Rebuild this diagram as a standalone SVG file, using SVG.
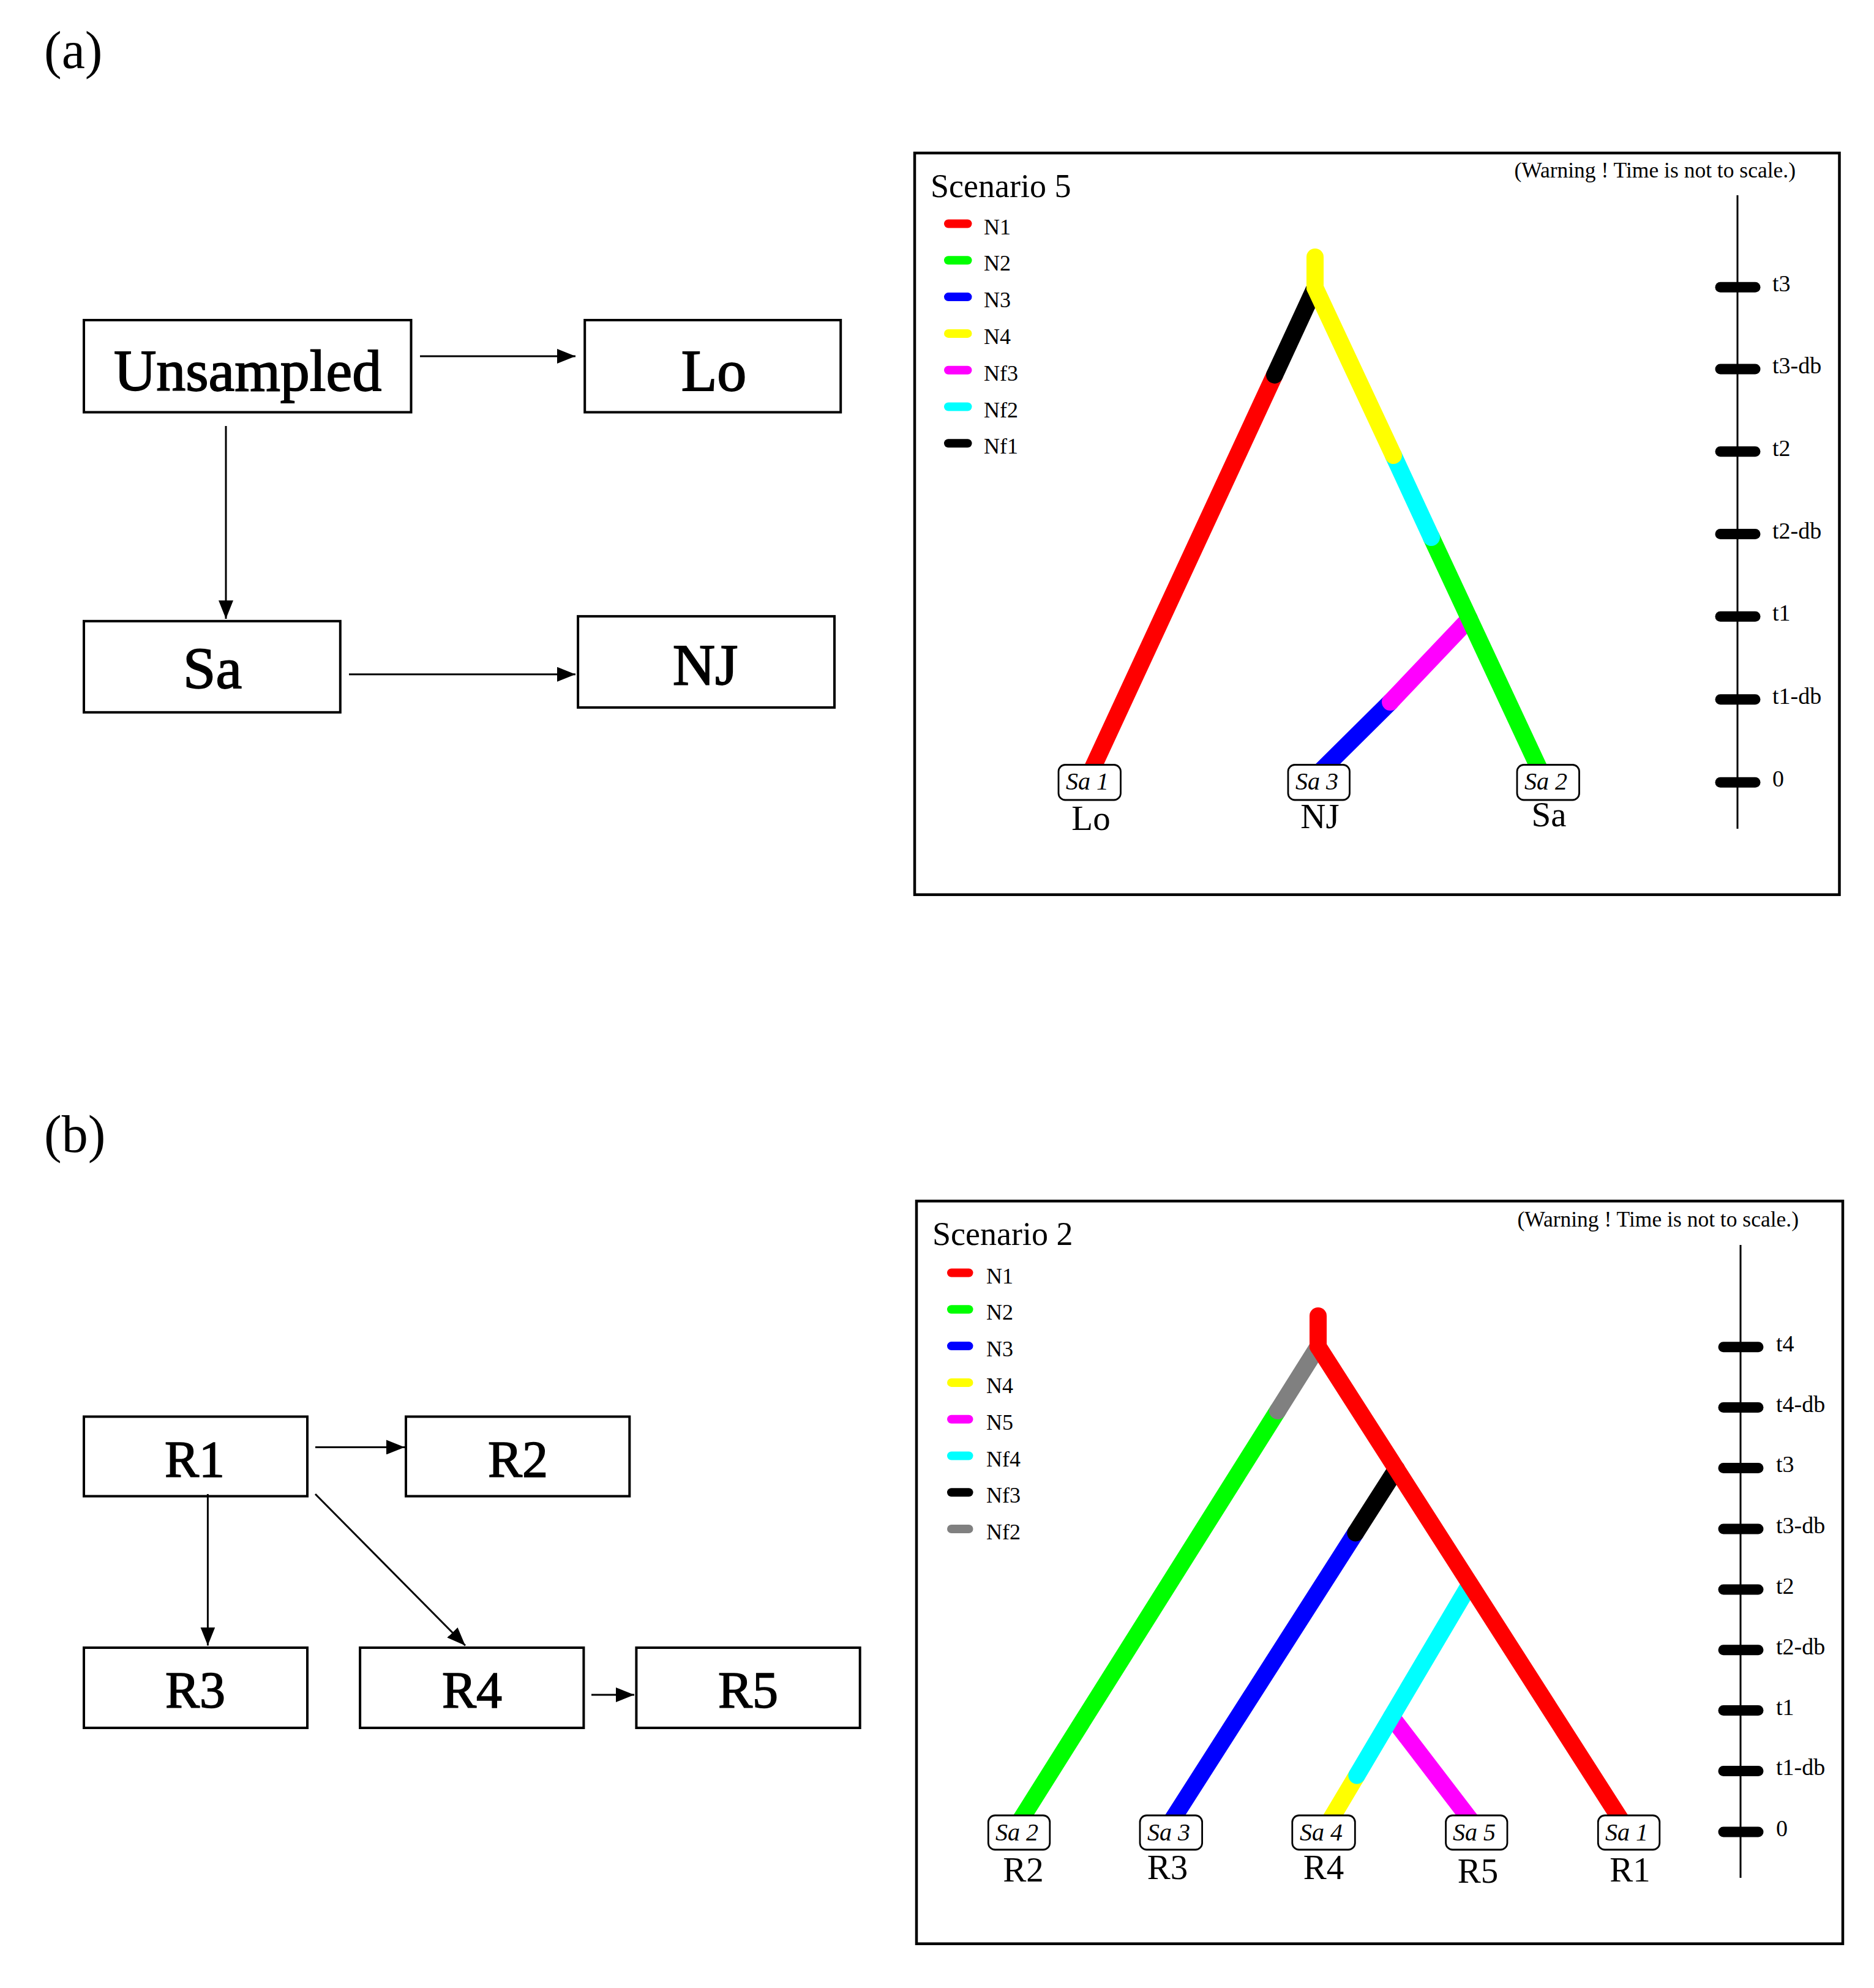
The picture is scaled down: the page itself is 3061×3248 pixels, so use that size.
<svg xmlns="http://www.w3.org/2000/svg" width="3061" height="3248" viewBox="0 0 3061 3248">
<defs>
<marker id="ah" viewBox="0 0 10 8" refX="10" refY="4" markerWidth="10" markerHeight="8" orient="auto" markerUnits="strokeWidth">
<path d="M0,0 L10,4 L0,8 z" fill="#000"/>
</marker>
<style>
text{font-family:"Liberation Serif","Times New Roman",serif;fill:#000}
.box{fill:#fff;stroke:#000;stroke-width:4}
.big{font-size:96px;text-anchor:middle;stroke:#000;stroke-width:1.8}
.mid{font-size:84px;text-anchor:middle;stroke:#000;stroke-width:1.6}
.panel{font-size:86px}
.conn{stroke:#000;stroke-width:3;fill:none;marker-end:url(#ah)}
.frame{fill:#fff;stroke:#000;stroke-width:4.5}
.title{font-size:54px}
.warn{font-size:35.5px;text-anchor:end}
.leg{font-size:36px}
.sw{stroke-width:14;stroke-linecap:round}
.br{stroke-width:28;stroke-linecap:round;fill:none}
.samp{fill:#fff;stroke:#000;stroke-width:2.8}
.st{font-size:40px;font-style:italic;text-anchor:middle}
.pop{font-size:57px;text-anchor:middle}
.axis{stroke:#000;stroke-width:3}
.tick{stroke:#000;stroke-width:17;stroke-linecap:round}
.tl{font-size:38px}
</style>
</defs>
<rect width="3061" height="3248" fill="#fff"/>

<!-- Panel (a) -->
<text class="panel" x="72" y="111">(a)</text>
<g id="node-unsampled"><rect class="box" x="137" y="523" width="534.5" height="150.5"/><text class="big" x="404.5" y="638">Unsampled</text></g>
<g id="node-lo"><rect class="box" x="955.2" y="523" width="418" height="150.5"/><text class="big" x="1166" y="638">Lo</text></g>
<g id="node-sa"><rect class="box" x="137" y="1014.8" width="418.8" height="149"/><text class="big" x="347" y="1124">Sa</text></g>
<g id="node-nj"><rect class="box" x="944.1" y="1006.9" width="418.9" height="149"/><text class="big" x="1152" y="1118.5">NJ</text></g>
<g id="connectors-a">
<line class="conn" x1="686" y1="582" x2="940" y2="582"/>
<line class="conn" x1="369" y1="696" x2="369" y2="1011"/>
<line class="conn" x1="570" y1="1101.7" x2="940" y2="1101.7"/>
</g>

<g id="scenario-5">
<rect class="frame" x="1494" y="250" width="1510.5" height="1211.7"/>
<text class="title" x="1520" y="322">Scenario 5</text>
<text class="warn" x="2933" y="290">(Warning ! Time is not to scale.)</text>
<g id="legend-a">
<line class="sw" x1="1549" y1="365.5" x2="1580.5" y2="365.5" stroke="#f00"/><text class="leg" x="1607" y="382.5">N1</text>
<line class="sw" x1="1549" y1="425.3" x2="1580.5" y2="425.3" stroke="#0f0"/><text class="leg" x="1607" y="442.3">N2</text>
<line class="sw" x1="1549" y1="485.1" x2="1580.5" y2="485.1" stroke="#00f"/><text class="leg" x="1607" y="502.1">N3</text>
<line class="sw" x1="1549" y1="544.9" x2="1580.5" y2="544.9" stroke="#ff0"/><text class="leg" x="1607" y="561.9">N4</text>
<line class="sw" x1="1549" y1="604.7" x2="1580.5" y2="604.7" stroke="#f0f"/><text class="leg" x="1607" y="621.7">Nf3</text>
<line class="sw" x1="1549" y1="664.5" x2="1580.5" y2="664.5" stroke="#0ff"/><text class="leg" x="1607" y="681.5">Nf2</text>
<line class="sw" x1="1549" y1="724.3" x2="1580.5" y2="724.3" stroke="#000"/><text class="leg" x="1607" y="741.3">Nf1</text>
</g>
<g id="tree-a">
<line class="br" x1="2271" y1="1147" x2="2155" y2="1262" stroke="#00f"/>
<line class="br" x1="2400" y1="1011" x2="2271" y2="1147" stroke="#f0f"/>
<line class="br" x1="2082" y1="612.6" x2="1781.3" y2="1262" stroke="#f00"/>
<line class="br" x1="2148" y1="470" x2="2082" y2="612.6" stroke="#000"/>
<line class="br" x1="2338" y1="878" x2="2517" y2="1262" stroke="#0f0"/>
<line class="br" x1="2276" y1="744" x2="2338" y2="878" stroke="#0ff"/>
<line class="br" x1="2148" y1="470" x2="2276" y2="744" stroke="#ff0"/>
<line class="br" x1="2148" y1="420" x2="2148" y2="470" stroke="#ff0"/>
</g>
<g id="samples-a">
<rect class="samp" x="1729" y="1249.5" width="101.5" height="57.5" rx="11"/><text class="st" x="1776" y="1290">Sa 1</text>
<rect class="samp" x="2104" y="1249.5" width="100.5" height="57.5" rx="11"/><text class="st" x="2151" y="1290">Sa 3</text>
<rect class="samp" x="2478" y="1249.5" width="101.5" height="57.5" rx="11"/><text class="st" x="2525" y="1290">Sa 2</text>
<text class="pop" x="1782" y="1356">Lo</text>
<text class="pop" x="2156" y="1352.5">NJ</text>
<text class="pop" x="2530" y="1350">Sa</text>
</g>
<g id="axis-a">
<line class="axis" x1="2838" y1="319" x2="2838" y2="1354"/>
<line class="tick" x1="2810" y1="469.2" x2="2867" y2="469.2"/><text class="tl" x="2895" y="476.2">t3</text>
<line class="tick" x1="2810" y1="603.1" x2="2867" y2="603.1"/><text class="tl" x="2895" y="610.1">t3-db</text>
<line class="tick" x1="2810" y1="737.8" x2="2867" y2="737.8"/><text class="tl" x="2895" y="744.8">t2</text>
<line class="tick" x1="2810" y1="872.5" x2="2867" y2="872.5"/><text class="tl" x="2895" y="879.5">t2-db</text>
<line class="tick" x1="2810" y1="1007.3" x2="2867" y2="1007.3"/><text class="tl" x="2895" y="1014.3">t1</text>
<line class="tick" x1="2810" y1="1142.8" x2="2867" y2="1142.8"/><text class="tl" x="2895" y="1149.8">t1-db</text>
<line class="tick" x1="2810" y1="1278.3" x2="2867" y2="1278.3"/><text class="tl" x="2895" y="1285.3">0</text>
</g>
</g>

<!-- Panel (b) -->
<text class="panel" x="72" y="1882">(b)</text>
<g id="node-r1"><rect class="box" x="137" y="2314.5" width="365" height="130"/><text class="mid" x="318" y="2413">R1</text></g>
<g id="node-r2"><rect class="box" x="663" y="2314.5" width="365.3" height="130"/><text class="mid" x="846" y="2413">R2</text></g>
<g id="node-r3"><rect class="box" x="137" y="2692" width="365" height="131"/><text class="mid" x="319" y="2790">R3</text></g>
<g id="node-r4"><rect class="box" x="588.1" y="2692" width="365.3" height="131"/><text class="mid" x="771" y="2790">R4</text></g>
<g id="node-r5"><rect class="box" x="1039.4" y="2692" width="365.3" height="131"/><text class="mid" x="1222" y="2790">R5</text></g>
<g id="connectors-b">
<line class="conn" x1="515" y1="2364.4" x2="661" y2="2364.4"/>
<line class="conn" x1="339.4" y1="2441" x2="339.4" y2="2688.5"/>
<line class="conn" x1="515" y1="2441" x2="760" y2="2688.5"/>
<line class="conn" x1="966" y1="2769" x2="1036" y2="2769"/>
</g>

<g id="scenario-2">
<rect class="frame" x="1497" y="1962.3" width="1513" height="1213.4"/>
<text class="title" x="1523" y="2034">Scenario 2</text>
<text class="warn" x="2938" y="2004">(Warning ! Time is not to scale.)</text>
<g id="legend-b">
<line class="sw" x1="1554" y1="2079.5" x2="1582.5" y2="2079.5" stroke="#f00"/><text class="leg" x="1611" y="2096.5">N1</text>
<line class="sw" x1="1554" y1="2139.3" x2="1582.5" y2="2139.3" stroke="#0f0"/><text class="leg" x="1611" y="2156.3">N2</text>
<line class="sw" x1="1554" y1="2199.1" x2="1582.5" y2="2199.1" stroke="#00f"/><text class="leg" x="1611" y="2216.1">N3</text>
<line class="sw" x1="1554" y1="2258.9" x2="1582.5" y2="2258.9" stroke="#ff0"/><text class="leg" x="1611" y="2275.9">N4</text>
<line class="sw" x1="1554" y1="2318.7" x2="1582.5" y2="2318.7" stroke="#f0f"/><text class="leg" x="1611" y="2335.7">N5</text>
<line class="sw" x1="1554" y1="2378.5" x2="1582.5" y2="2378.5" stroke="#0ff"/><text class="leg" x="1611" y="2395.5">Nf4</text>
<line class="sw" x1="1554" y1="2438.3" x2="1582.5" y2="2438.3" stroke="#000"/><text class="leg" x="1611" y="2455.3">Nf3</text>
<line class="sw" x1="1554" y1="2498" x2="1582.5" y2="2498" stroke="#808080"/><text class="leg" x="1611" y="2515">Nf2</text>
</g>
<g id="tree-b">
<line class="br" x1="2087" y1="2305" x2="1666" y2="2975" stroke="#0f0"/>
<line class="br" x1="2153" y1="2200" x2="2087" y2="2305" stroke="#808080"/>
<line class="br" x1="2214.3" y1="2504.4" x2="1913.6" y2="2975" stroke="#00f"/>
<line class="br" x1="2281" y1="2400" x2="2214.3" y2="2504.4" stroke="#000"/>
<line class="br" x1="2273" y1="2805" x2="2403" y2="2975" stroke="#f0f"/>
<line class="br" x1="2216.3" y1="2900.6" x2="2172" y2="2975" stroke="#ff0"/>
<line class="br" x1="2401" y1="2588" x2="2216.3" y2="2900.6" stroke="#0ff"/>
<line class="br" x1="2153" y1="2200" x2="2648.6" y2="2975" stroke="#f00"/>
<line class="br" x1="2153" y1="2150" x2="2153" y2="2200" stroke="#f00"/>
</g>
<g id="samples-b">
<rect class="samp" x="1614.3" y="2966" width="100.5" height="56" rx="11"/><text class="st" x="1661" y="3007">Sa 2</text>
<rect class="samp" x="1862" y="2966" width="101.6" height="56" rx="11"/><text class="st" x="1909" y="3007">Sa 3</text>
<rect class="samp" x="2110.8" y="2966" width="102.5" height="56" rx="11"/><text class="st" x="2158" y="3007">Sa 4</text>
<rect class="samp" x="2361.6" y="2966" width="100.4" height="56" rx="11"/><text class="st" x="2408" y="3007">Sa 5</text>
<rect class="samp" x="2610.3" y="2966" width="100.5" height="56" rx="11"/><text class="st" x="2657" y="3007">Sa 1</text>
<text class="pop" x="1671.5" y="3073.6">R2</text>
<text class="pop" x="1907" y="3070.4">R3</text>
<text class="pop" x="2162" y="3070.4">R4</text>
<text class="pop" x="2414" y="3076">R5</text>
<text class="pop" x="2662.6" y="3073.6">R1</text>
</g>
<g id="axis-b">
<line class="axis" x1="2843" y1="2034" x2="2843" y2="3068"/>
<line class="tick" x1="2815" y1="2200.7" x2="2872" y2="2200.7"/><text class="tl" x="2901" y="2207.7">t4</text>
<line class="tick" x1="2815" y1="2299.5" x2="2872" y2="2299.5"/><text class="tl" x="2901" y="2306.5">t4-db</text>
<line class="tick" x1="2815" y1="2398.4" x2="2872" y2="2398.4"/><text class="tl" x="2901" y="2405.4">t3</text>
<line class="tick" x1="2815" y1="2498" x2="2872" y2="2498"/><text class="tl" x="2901" y="2505">t3-db</text>
<line class="tick" x1="2815" y1="2596.9" x2="2872" y2="2596.9"/><text class="tl" x="2901" y="2603.9">t2</text>
<line class="tick" x1="2815" y1="2695.7" x2="2872" y2="2695.7"/><text class="tl" x="2901" y="2702.7">t2-db</text>
<line class="tick" x1="2815" y1="2794.6" x2="2872" y2="2794.6"/><text class="tl" x="2901" y="2801.6">t1</text>
<line class="tick" x1="2815" y1="2893.4" x2="2872" y2="2893.4"/><text class="tl" x="2901" y="2900.4">t1-db</text>
<line class="tick" x1="2815" y1="2993.1" x2="2872" y2="2993.1"/><text class="tl" x="2901" y="3000.1">0</text>
</g>
</g>
</svg>
